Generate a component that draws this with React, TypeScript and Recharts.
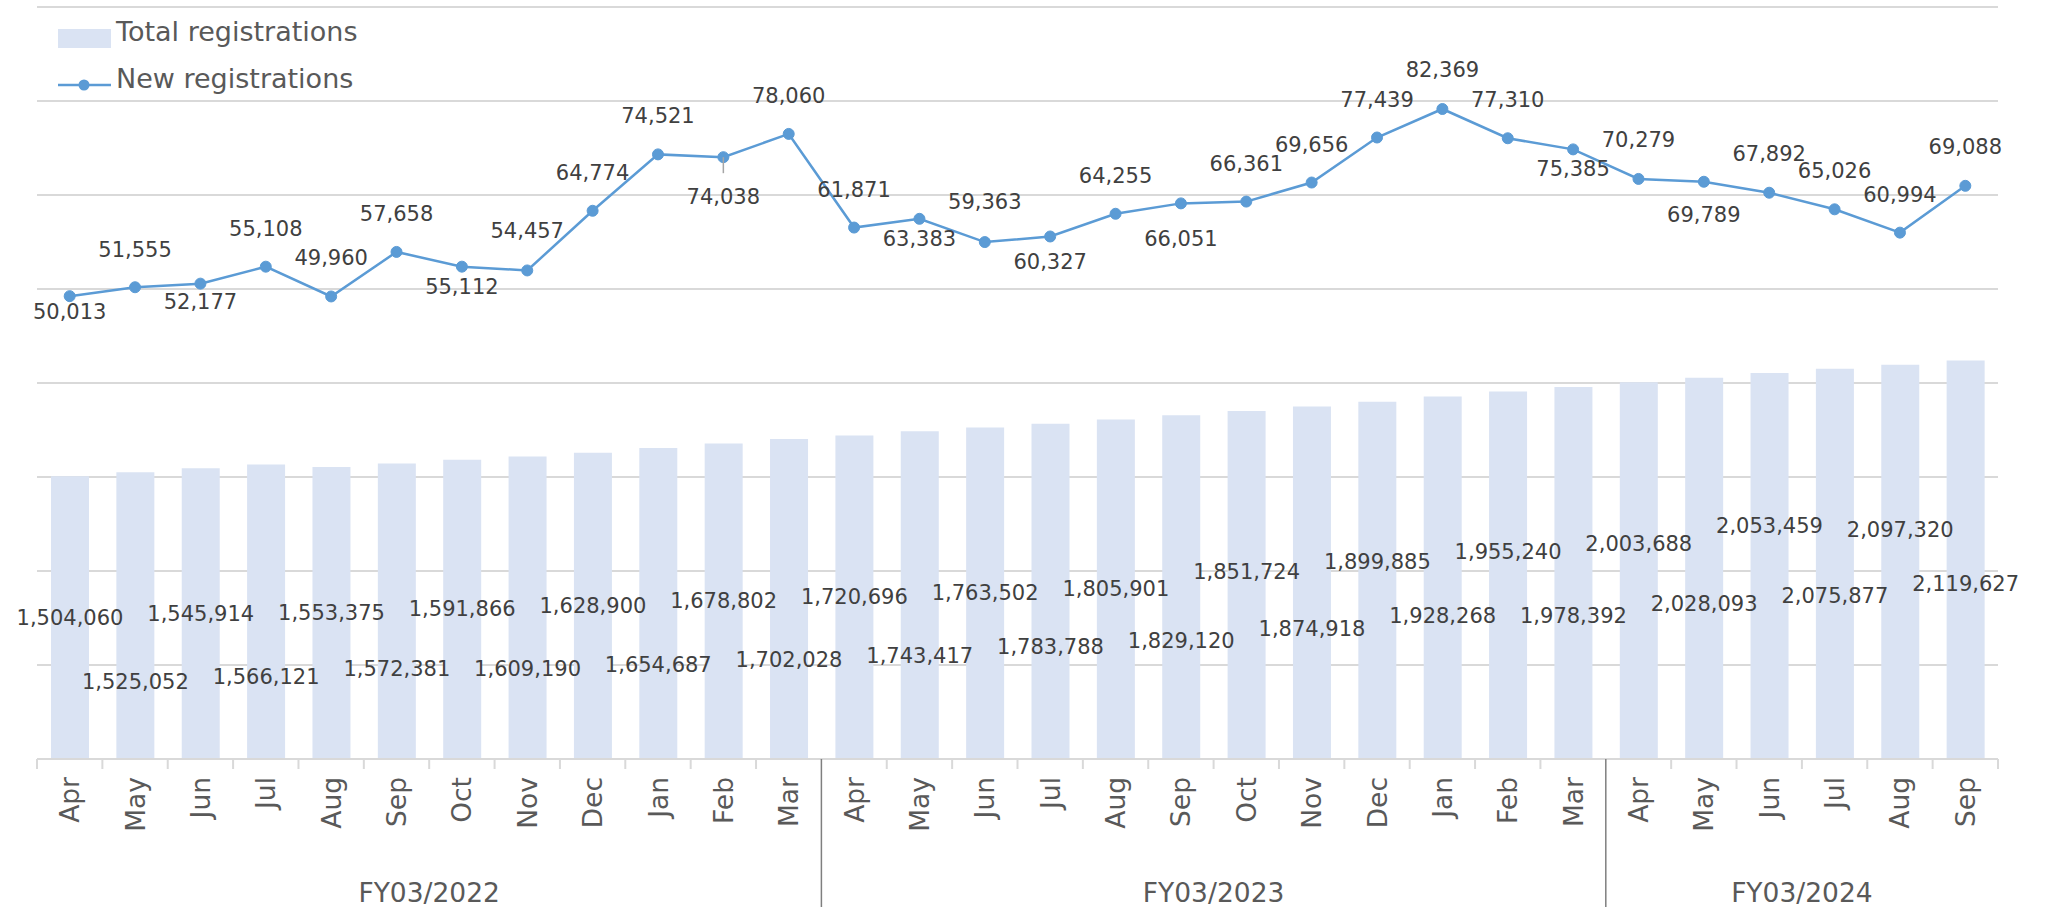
import React from 'react';
import {
  ComposedChart,
  Bar,
  Line,
  XAxis,
  YAxis,
  CartesianGrid,
  LabelList,
  Legend,
} from 'recharts';

// ---------- data ----------
const months = [
  'Apr', 'May', 'Jun', 'Jul', 'Aug', 'Sep', 'Oct', 'Nov', 'Dec', 'Jan', 'Feb', 'Mar',
  'Apr', 'May', 'Jun', 'Jul', 'Aug', 'Sep', 'Oct', 'Nov', 'Dec', 'Jan', 'Feb', 'Mar',
  'Apr', 'May', 'Jun', 'Jul', 'Aug', 'Sep',
];

const fiscalYears = ['FY03/2022', 'FY03/2023', 'FY03/2024'];
const fiscalYearMonths = [12, 12, 6];

const totalRegistrations = [
  1504060, 1525052, 1545914, 1566121, 1553375, 1572381, 1591866, 1609190, 1628900, 1654687,
  1678802, 1702028, 1720696, 1743417, 1763502, 1783788, 1805901, 1829120, 1851724, 1874918,
  1899885, 1928268, 1955240, 1978392, 2003688, 2028093, 2053459, 2075877, 2097320, 2119627,
];

const newRegistrations = [
  50013, 51555, 52177, 55108, 49960, 57658, 55112, 54457, 64774, 74521,
  74038, 78060, 61871, 63383, 59363, 60327, 64255, 66051, 66361, 69656,
  77439, 82369, 77310, 75385, 70279, 69789, 67892, 65026, 60994, 69088,
];

// ---------- label nudges (manual label placement, relative to library positions) ----------
const totalLabelNudge = [
  0, 66, 0, 65, 0, 58, 0, 61, 0, 62,
  0, 61, 0, 61, 0, 56, 0, 54, -13, 46,
  -18, 38, -23, 43, -27, 36, -40, 32, -32, 24,
];
const newLabelNudge = [
  16, -37, 18, -38, -38, -38, 20, -39, -38, -38,
  40, -38, -38, 20, -40, 26, -38, 36, -38, -38,
  -38, -39, -38, 20, -39, 33, -39, -38, -38, -39,
];
const newLabelLeader = [10];

// ---------- layout ----------
const CHART_W = 2051;
const CHART_H = 907;
const MARGIN = { top: 7, right: 53, left: 37, bottom: 0 };
const X_AXIS_H = 148;
const AXIS_Y = CHART_H - X_AXIS_H;
const BAND = (CHART_W - MARGIN.left - MARGIN.right) / months.length;
const FONT = '"DejaVu Sans", Verdana, sans-serif';

const chartData = months.map((m, i) => ({
  month: m,
  total: totalRegistrations[i],
  newReg: newRegistrations[i],
}));

const groupStarts: number[] = [];
{
  let acc = 0;
  fiscalYearMonths.forEach((n) => {
    groupStarts.push(acc);
    acc += n;
  });
}

const fmt = (v: number) => Number(v).toLocaleString('en-US');

function MonthTick(props: any) {
  const { x, payload } = props;
  const i: number = payload.index ?? props.index;
  const last = months.length - 1;
  const gi = groupStarts.indexOf(i);
  const leftX = x - BAND / 2;
  return (
    <g>
      {gi > 0 ? (
        <line x1={leftX} x2={leftX} y1={AXIS_Y} y2={CHART_H} stroke="#7F7F7F" strokeWidth={1.5} />
      ) : (
        <line x1={leftX} x2={leftX} y1={AXIS_Y} y2={AXIS_Y + 10} stroke="#D9D9D9" strokeWidth={2} />
      )}
      {i === last && (
        <line x1={x + BAND / 2} x2={x + BAND / 2} y1={AXIS_Y} y2={AXIS_Y + 10} stroke="#D9D9D9" strokeWidth={2} />
      )}
      <text
        transform={`translate(${x},${AXIS_Y + 18}) rotate(-90)`}
        textAnchor="end"
        dy="0.36em"
        fontFamily={FONT}
        fontSize={26.5}
        fill="#595959"
      >
        {payload.value}
      </text>
      {gi >= 0 && (
        <text
          x={x + (fiscalYearMonths[gi] / 2 - 0.5) * BAND}
          y={892}
          textAnchor="middle"
          dominantBaseline="central"
          fontFamily={FONT}
          fontSize={26.5}
          fill="#595959"
        >
          {fiscalYears[gi]}
        </text>
      )}
    </g>
  );
}

function BarValueLabel(props: any) {
  const { x, y, width, height, value, index } = props;
  const cx = Number(x) + Number(width) / 2;
  const cy = Number(y) + Number(height) / 2 + (totalLabelNudge[index] || 0);
  return (
    <text
      x={cx}
      y={cy}
      textAnchor="middle"
      dominantBaseline="central"
      fontFamily={FONT}
      fontSize={21}
      fill="#404040"
    >
      {fmt(value)}
    </text>
  );
}

function LineValueLabel(props: any) {
  const { x, y, value, index } = props;
  const dy = newLabelNudge[index] || 0;
  return (
    <g>
      {newLabelLeader.includes(index) && (
        <line x1={x} x2={x} y1={Number(y)} y2={Number(y) + 16} stroke="#A6A6A6" strokeWidth={1.5} />
      )}
      <text
        x={x}
        y={Number(y) + dy}
        textAnchor="middle"
        dominantBaseline="central"
        fontFamily={FONT}
        fontSize={21}
        fill="#404040"
      >
        {fmt(value)}
      </text>
    </g>
  );
}

function LegendContent() {
  return (
    <svg width={420} height={110} style={{ display: 'block' }}>
      <rect x={58} y={29} width={53} height={19} fill="#DAE3F3" />
      <text x={116} y={41} fontFamily={FONT} fontSize={27} fill="#595959">
        Total registrations
      </text>
      <line x1={58} x2={111} y1={85} y2={85} stroke="#5B9BD5" strokeWidth={2.5} />
      <circle cx={84} cy={85} r={5.5} fill="#5B9BD5" />
      <text x={116} y={88} fontFamily={FONT} fontSize={27} fill="#595959">
        New registrations
      </text>
    </svg>
  );
}

export default function App() {
  return (
    <div style={{ position: 'absolute', left: 0, top: 0, width: CHART_W, height: CHART_H, background: '#fff' }}>
      <ComposedChart width={CHART_W} height={CHART_H} data={chartData} margin={MARGIN}>
        <CartesianGrid yAxisId="left" vertical={false} stroke="#D9D9D9" strokeWidth={2} />
        <XAxis
          dataKey="month"
          height={X_AXIS_H}
          interval={0}
          tickLine={false}
          axisLine={{ stroke: '#D9D9D9', strokeWidth: 2 }}
          tick={<MonthTick />}
        />
        <YAxis
          yAxisId="left"
          hide
          domain={[0, 4000000]}
          ticks={[0, 500000, 1000000, 1500000, 2000000, 2500000, 3000000, 3500000, 4000000]}
        />
        <YAxis yAxisId="right" orientation="right" hide domain={[-30000, 100000]} />
        <Legend
          layout="vertical"
          align="center"
          verticalAlign="middle"
          wrapperStyle={{ left: 0, top: 0, width: 420, height: 110 }}
          content={<LegendContent />}
        />
        <Bar yAxisId="left" dataKey="total" fill="#DAE3F3" barSize={38} isAnimationActive={false}>
          <LabelList dataKey="total" content={<BarValueLabel />} />
        </Bar>
        <Line
          yAxisId="right"
          dataKey="newReg"
          stroke="#5B9BD5"
          strokeWidth={2.5}
          dot={{ r: 5.5, fill: '#5B9BD5', stroke: '#5B9BD5', strokeWidth: 1 }}
          activeDot={false}
          isAnimationActive={false}
        >
          <LabelList dataKey="newReg" content={<LineValueLabel />} />
        </Line>
      </ComposedChart>
    </div>
  );
}
